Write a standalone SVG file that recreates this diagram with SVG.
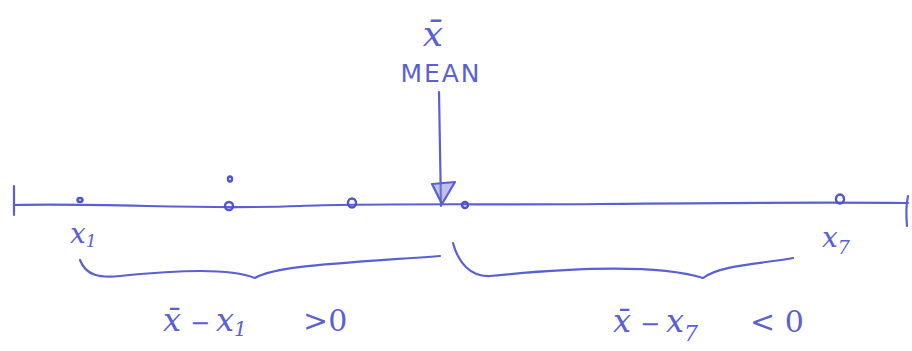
<svg xmlns="http://www.w3.org/2000/svg" width="912" height="351" viewBox="0 0 912 351">
<style>
.ink{fill:none;stroke:#5a60d4;stroke-width:2.2;stroke-linecap:round;stroke-linejoin:round}
.dot{fill:none;stroke:#4d53cc;stroke-width:2.4}
.t{fill:#5a60d4;font-family:"DejaVu Serif","Liberation Serif",serif;font-style:italic}
.m{fill:#5a60d4;font-family:"DejaVu Sans","Liberation Sans",sans-serif}
</style>
<rect width="912" height="351" fill="#ffffff"/>
<g id="axis">
<path class="ink" d="M14,205 C120,203 200,210 300,206 C360,203 500,205 600,204 C700,203 800,202 908,203"/>
<path class="ink" d="M14,186 L14,215"/>
<path class="ink" d="M908,196 C906,205 906,215 907,226"/>
</g>
<g id="points">
<ellipse class="dot" cx="80" cy="200" rx="2.5" ry="2"/>
<ellipse class="dot" cx="229" cy="206" rx="4" ry="4"/>
<ellipse class="dot" cx="230" cy="179" rx="2" ry="2.5"/>
<ellipse class="dot" cx="352" cy="203" rx="4" ry="4.5"/>
<ellipse class="dot" cx="465" cy="205" rx="3" ry="3"/>
<ellipse class="dot" cx="840" cy="199" rx="4" ry="4.5"/>
</g>
<g id="mean">
<text class="t" x="433" y="46" font-size="36" text-anchor="middle">x̄</text>
<text class="m" x="441" y="82" font-size="25" letter-spacing="2" text-anchor="middle">MEAN</text>
<path class="ink" d="M439,92 L441,206"/>
<path class="ink" d="M432,184 L455,182 L442,204 Z" style="fill:#7d82de;fill-opacity:0.5"/>
</g>
<g id="labels">
<text class="t" x="70" y="243" font-size="28">x<tspan font-size="17" dy="4">1</tspan></text>
<text class="t" x="822" y="247" font-size="28">x<tspan font-size="19" dy="7">7</tspan></text>
</g>
<g id="braces">
<path class="ink" d="M80,260 C86,276 100,278 120,276 C180,270 230,268 255,278 C275,266 330,264 440,256"/>
<path class="ink" d="M453,243 C458,262 470,277 490,276 C550,270 650,262 703,278 C720,265 760,264 793,258"/>
</g>
<g id="diffs">
<text class="t" font-size="32" y="331"><tspan x="163">x̄</tspan><tspan x="190" font-size="24" font-style="normal">−</tspan><tspan x="216">x</tspan><tspan font-size="20" dy="5">1</tspan><tspan dy="-5" x="303" font-style="normal" font-size="30">&gt;0</tspan></text>
<text class="t" font-size="32" y="332"><tspan x="613">x̄</tspan><tspan x="640" font-size="24" font-style="normal">−</tspan><tspan x="666">x</tspan><tspan font-size="22" dy="9">7</tspan><tspan dy="-9" x="750" font-style="normal" font-size="30">&lt; 0</tspan></text>
</g>
</svg>
